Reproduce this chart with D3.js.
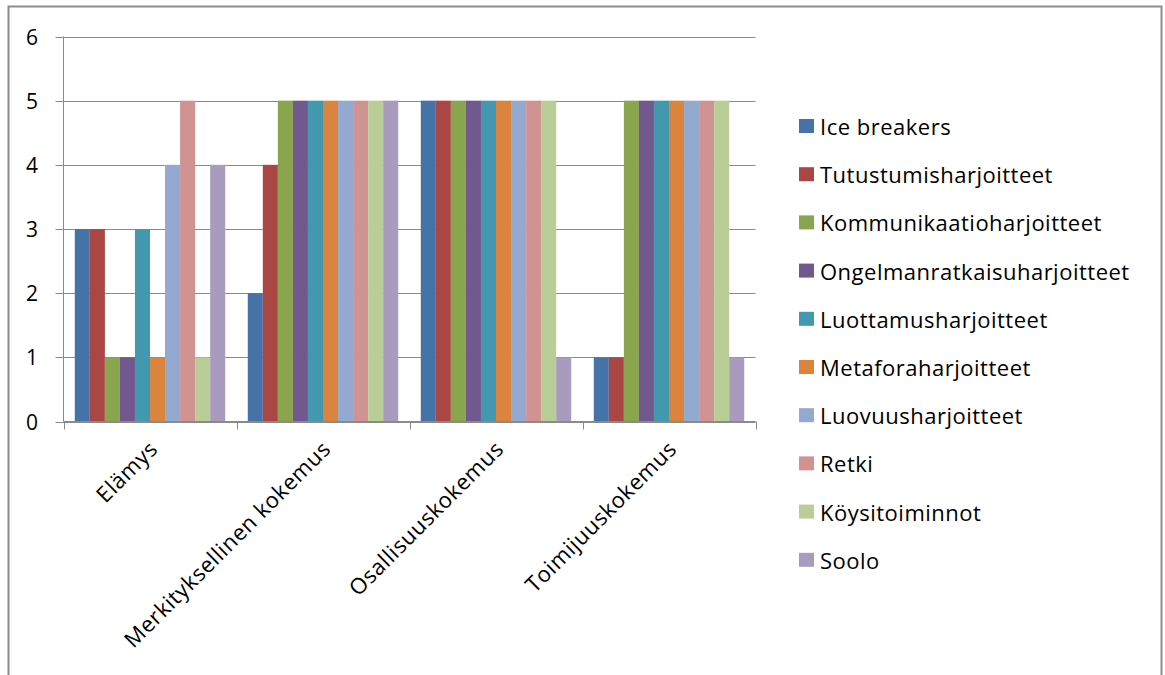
<!DOCTYPE html>
<html>
<head>
<meta charset="utf-8">
<script src="https://cdn.jsdelivr.net/npm/d3@7"></script>
<style>
  html, body { margin: 0; padding: 0; background: #fff; }
  svg { display: block; }
  text { font-family: "Open Sans", "Noto Sans", sans-serif; fill: #000; }
</style>
</head>
<body>
<svg id="chart" width="1165" height="675"></svg>
<script>
// Categories (experience types)
const categories = ["Elämys", "Merkityksellinen kokemus", "Osallisuuskokemus", "Toimijuuskokemus"];

// Exercise series names
const seriesNames = [
  "Ice breakers", "Tutustumisharjoitteet", "Kommunikaatioharjoitteet",
  "Ongelmanratkaisuharjoitteet", "Luottamusharjoitteet", "Metaforaharjoitteet",
  "Luovuusharjoitteet", "Retki", "Köysitoiminnot", "Soolo"
];

// Values per series, one entry per category
const iceBreakers      = [3, 2, 5, 1];
const tutustumis       = [3, 4, 5, 1];
const kommunikaatio    = [1, 5, 5, 5];
const ongelmanratkaisu = [1, 5, 5, 5];
const luottamus        = [3, 5, 5, 5];
const metafora         = [1, 5, 5, 5];
const luovuus          = [4, 5, 5, 5];
const retki            = [5, 5, 5, 5];
const koysitoiminnot   = [1, 5, 5, 5];
const soolo            = [4, 5, 1, 1];

const seriesValues = [iceBreakers, tutustumis, kommunikaatio, ongelmanratkaisu,
  luottamus, metafora, luovuus, retki, koysitoiminnot, soolo];

const seriesColors = ["#4572A7", "#AA4643", "#89A54E", "#71588F", "#4198AF",
  "#DB843D", "#93A9CF", "#D19392", "#B9CD96", "#A99BBD"];

const yTicks = [0, 1, 2, 3, 4, 5, 6];

const svg = d3.select("#chart");

// outer chart frame
svg.append("rect")
  .attr("x", 8.5).attr("y", 6.5)
  .attr("width", 1153).attr("height", 700)
  .attr("fill", "none").attr("stroke", "#8c8c8c").attr("stroke-width", 2);

const plot = { left: 63.5, right: 755.5, top: 36.5, bottom: 421.5 };

const x0 = d3.scaleBand()
  .domain(categories)
  .range([plot.left, plot.right])
  .paddingInner(0).paddingOuter(0);

// Gap between groups equals 1.5 bar widths
const barW = x0.bandwidth() / (seriesNames.length + 1.5);
const x1 = d3.scaleBand()
  .domain(seriesNames)
  .range([barW * 0.75, barW * 0.75 + barW * seriesNames.length]);

const y = d3.scaleLinear().domain([0, 6]).range([plot.bottom, plot.top]);

// gridlines with left tick marks
const grid = svg.append("g");
grid.selectAll("line")
  .data(yTicks)
  .join("line")
  .attr("x1", plot.left - 8).attr("x2", plot.right)
  .attr("y1", d => Math.round(y(d)) + 0.5).attr("y2", d => Math.round(y(d)) + 0.5)
  .attr("stroke", "#8a8a8a").attr("stroke-width", 1);

// y-axis labels
svg.append("g").selectAll("text")
  .data(yTicks)
  .join("text")
  .attr("x", 38).attr("y", d => y(d))
  .attr("text-anchor", "end")
  .attr("dominant-baseline", "central")
  .style("font-size", "21px")
  .text(d => d);

// bars
const groups = svg.append("g").selectAll("g")
  .data(categories)
  .join("g")
  .attr("transform", d => `translate(${x0(d)},0)`);

groups.selectAll("rect")
  .data((c, ci) => seriesNames.map((s, si) => ({ s, si, v: seriesValues[si][ci] })))
  .join("rect")
  .attr("x", d => x1(d.s))
  .attr("width", x1.bandwidth())
  .attr("y", d => y(d.v))
  .attr("height", d => y(0) - y(d.v))
  .attr("fill", d => seriesColors[d.si]);

// y axis line
svg.append("line")
  .attr("x1", plot.left).attr("x2", plot.left)
  .attr("y1", plot.top).attr("y2", plot.bottom)
  .attr("stroke", "#8a8a8a");

// x axis line and boundary ticks
svg.append("line")
  .attr("x1", plot.left).attr("x2", plot.right)
  .attr("y1", plot.bottom).attr("y2", plot.bottom)
  .attr("stroke", "#8a8a8a");

const boundaries = categories.map(c => x0(c)).concat([plot.right]);
svg.append("g").selectAll("line")
  .data(boundaries)
  .join("line")
  .attr("x1", d => Math.round(d) + 0.5).attr("x2", d => Math.round(d) + 0.5)
  .attr("y1", plot.bottom).attr("y2", plot.bottom + 8)
  .attr("stroke", "#8a8a8a");

// rotated category labels
svg.append("g").selectAll("text")
  .data(categories)
  .join("text")
  .attr("transform", d => `translate(${x0(d) + x0.bandwidth() / 2 + 9},${plot.bottom + 29}) rotate(-45)`)
  .attr("text-anchor", "end")
  .style("font-size", "22px")
  .style("letter-spacing", "0.6px")
  .text(d => d);

// legend
const legend = svg.append("g").attr("transform", "translate(799,126)");
const rows = legend.selectAll("g")
  .data(seriesNames)
  .join("g")
  .attr("transform", (d, i) => `translate(0,${i * 48.2})`);
rows.append("rect")
  .attr("x", 0).attr("y", -7)
  .attr("width", 15).attr("height", 14)
  .attr("fill", (d, i) => seriesColors[i]);
rows.append("text")
  .attr("x", 21).attr("y", 0)
  .attr("dominant-baseline", "central")
  .style("font-size", "22px")
  .style("letter-spacing", "0.5px")
  .text(d => d);
</script>
</body>
</html>
